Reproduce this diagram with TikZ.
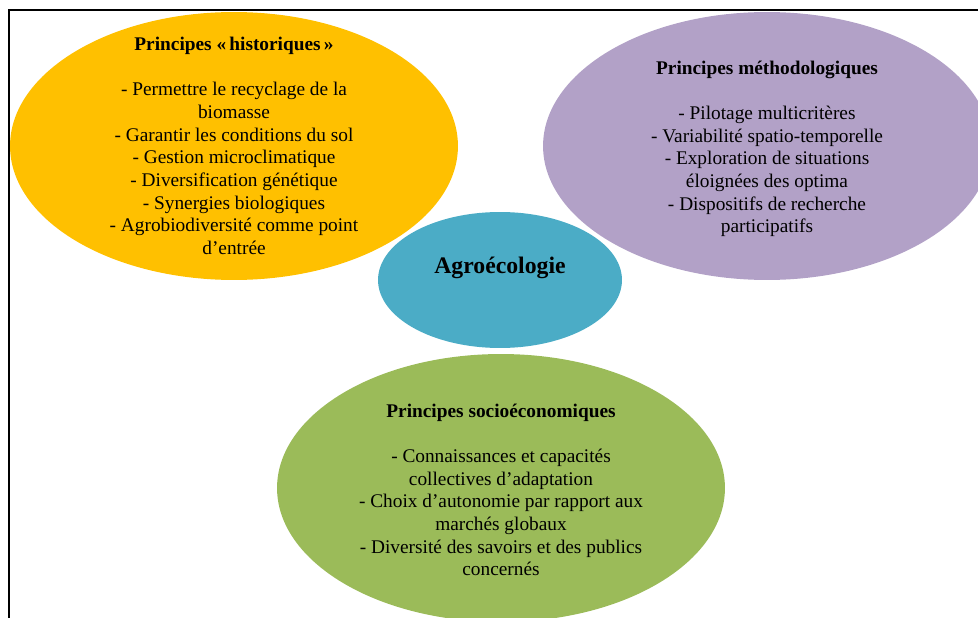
\documentclass[tikz,border=0pt]{standalone}
\usepackage{fontspec}
\setmainfont{Liberation Serif}
\usepackage{tikz}
\usetikzlibrary{shapes.geometric}
\tikzset{bubble/.style = {ellipse, inner sep = 0, minimum width = 8.96cm, minimum height = 5.36cm}}
\tikzset{core/.style = {ellipse, inner sep = 0, minimum width = 4.88cm, minimum height = 2.72cm}}
\tikzset{txt/.style = {align = center, inner sep = 0, font = \fontsize{11}{12.9}\selectfont}}
\definecolor{myellow}{HTML}{FFC000}
\definecolor{mpurple}{HTML}{B2A1C7}
\definecolor{mteal}{HTML}{4BACC6}
\definecolor{mgreen}{HTML}{9BBB59}

\begin{document}
\begin{tikzpicture}[x = 0.02cm, y = -0.02cm]
    \useasboundingbox (0, 0) rectangle (978, 618);

    \node (hist) at (234, 146) [bubble, fill = myellow] {};
    \node (meth) at (767, 146) [bubble, fill = mpurple] {};
    \node (agro) at (500, 280) [core, fill = mteal] {};
    \node (socio) at (501, 488) [bubble, fill = mgreen] {};

    \node (histtxt) at (hist.center) [txt] {\textbf{Principes «\,historiques\,»}\\[12.9pt]
      - Permettre le recyclage de la\\ biomasse\\
      - Garantir les conditions du sol\\
      - Gestion microclimatique\\
      - Diversification génétique\\
      - Synergies biologiques\\
      - Agrobiodiversité comme point\\ d’entrée};
    \node (methtxt) at (767, 149) [txt] {\textbf{Principes méthodologiques}\\[12.9pt]
      - Pilotage multicritères\\
      - Variabilité spatio-temporelle\\
      - Exploration de situations\\ éloignées des optima\\
      - Dispositifs de recherche\\ participatifs};
    \node (agrotxt) at (500, 268) [txt, font = \fontsize{13.5}{15}\selectfont\bfseries] {Agroécologie};
    \node (sociotxt) at (501, 490) [txt] {\textbf{Principes socioéconomiques}\\[12.9pt]
      - Connaissances et capacités\\ collectives d’adaptation\\
      - Choix d’autonomie par rapport aux\\ marchés globaux\\
      - Diversité des savoirs et des publics\\ concernés};

    \draw [line width = 1.4pt] (9, 640) -- (9, 10) -- (1000, 10);
  \end{tikzpicture}
\end{document}
